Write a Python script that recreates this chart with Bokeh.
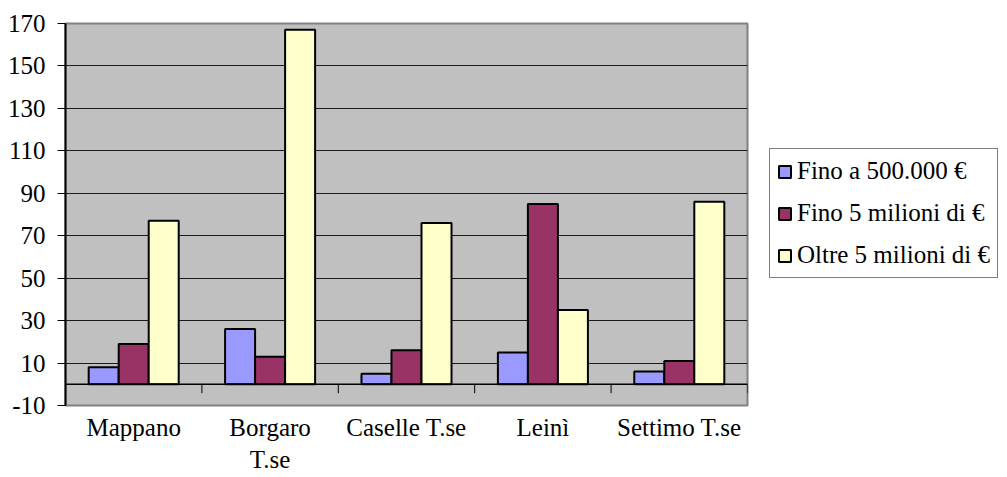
from bokeh.plotting import figure
from bokeh.models import (Range1d, FixedTicker, Span, Legend, LegendItem, ColumnDataSource)
from bokeh.transform import dodge
from bokeh.embed import file_html
from bokeh.resources import INLINE

categories = ["Mappano", "Borgaro\nT.se", "Caselle T.se", "Leinì", "Settimo T.se"]
series_names = ["Fino a 500.000 €", "Fino 5 milioni di €", "Oltre 5 milioni di €"]
fino_500k = [8, 26, 5, 15, 6]
fino_5mln = [19, 13, 16, 85, 11]
oltre_5mln = [77, 167, 76, 35, 86]
y_ticks = [-10, 10, 30, 50, 70, 90, 110, 130, 150, 170]
colors = ["#9999FF", "#993366", "#FFFFCC"]

FONT = "Liberation Serif"
FS = "25px"

xpos = [i + 0.5 for i in range(len(categories))]
src = ColumnDataSource(dict(x=xpos, a=fino_500k, b=fino_5mln, c=oltre_5mln))

p = figure(frame_width=682, frame_height=382, x_range=Range1d(0, len(categories)),
           y_range=Range1d(y_ticks[0], y_ticks[-1]),
           output_backend="svg", toolbar_location=None,
           min_border_left=65, min_border_right=258, min_border_top=23, min_border_bottom=70)

p.border_fill_color = "white"
p.outline_line_color = "#808080"
p.outline_line_width = 2
p.background_fill_color = "#C0C0C0"

# grid
p.xgrid.grid_line_color = None
p.ygrid.ticker = FixedTicker(ticks=y_ticks)
p.ygrid.grid_line_color = "#1a1a1a"
p.ygrid.grid_line_width = 1

# y axis
p.yaxis.ticker = FixedTicker(ticks=y_ticks)
p.yaxis.major_label_overrides = {t: str(t) for t in y_ticks}
p.yaxis.axis_line_color = "black"
p.yaxis.axis_line_width = 2
p.yaxis.major_tick_line_color = "black"
p.yaxis.major_tick_out = 8
p.yaxis.major_tick_in = 0
p.yaxis.minor_tick_line_color = None
p.yaxis.major_label_text_font = FONT
p.yaxis.major_label_text_font_size = FS
p.yaxis.major_label_text_color = "black"
p.yaxis.major_label_standoff = 12

# x axis (labels only)
p.xaxis.ticker = FixedTicker(ticks=xpos)
p.xaxis.major_label_overrides = {x: c for x, c in zip(xpos, categories)}
p.xaxis.axis_line_color = None
p.xaxis.major_tick_line_color = None
p.xaxis.minor_tick_line_color = None
p.xaxis.major_label_text_font = FONT
p.xaxis.major_label_text_font_size = FS
p.xaxis.major_label_text_color = "black"
p.xaxis.major_label_standoff = 2

# zero line acting as category axis
p.add_layout(Span(location=0, dimension="width", line_color="black", line_width=1.5))
bounds = list(range(1, len(categories) + 1))
p.segment(x0=bounds, y0=[0] * len(bounds), x1=bounds, y1=[-4.2] * len(bounds),
          line_color="black", line_width=1)

w = 0.22
r1 = p.vbar(x=dodge("x", -w, range=p.x_range), top="a", bottom=0, width=w, source=src,
            fill_color=colors[0], line_color="black", line_width=2)
r2 = p.vbar(x=dodge("x", 0, range=p.x_range), top="b", bottom=0, width=w, source=src,
            fill_color=colors[1], line_color="black", line_width=2)
r3 = p.vbar(x=dodge("x", w, range=p.x_range), top="c", bottom=0, width=w, source=src,
            fill_color=colors[2], line_color="black", line_width=2)

legend = Legend(items=[LegendItem(label=series_names[0], renderers=[r1]),
                       LegendItem(label=series_names[1], renderers=[r2]),
                       LegendItem(label=series_names[2], renderers=[r3])],
                location=(22, 127))
legend.label_text_font = FONT
legend.label_text_font_size = FS
legend.label_text_color = "black"
legend.label_height = 30
legend.glyph_height = 15
legend.glyph_width = 15
legend.label_standoff = 5
legend.spacing = 12
legend.padding = 7
legend.margin = 0
legend.border_line_color = "black"
legend.border_line_width = 1
legend.background_fill_color = "white"
legend.background_fill_alpha = 1
p.add_layout(legend, "right")

open("out.html", "w").write(file_html(p, INLINE))
